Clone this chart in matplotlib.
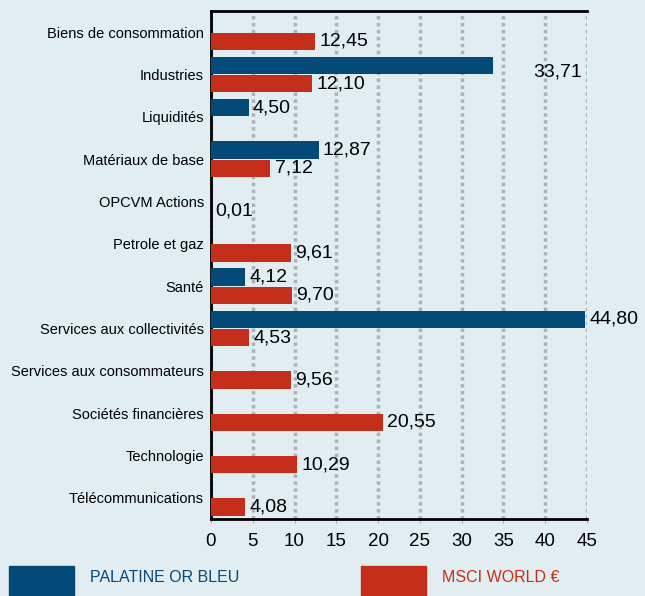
import matplotlib.pyplot as plt
import matplotlib.patches as mpatches
import numpy as np

plt.rcParams['font.family'] = ['Liberation Sans', 'DejaVu Sans']

categories = ['Biens de consommation', 'Industries', 'Liquidités', 'Matériaux de base',
              'OPCVM Actions', 'Petrole et gaz', 'Santé', 'Services aux collectivités',
              'Services aux consommateurs', 'Sociétés financières', 'Technologie',
              'Télécommunications']
palatine = [np.nan, 33.71, 4.50, 12.87, np.nan, np.nan, 4.12, 44.80,
            np.nan, np.nan, np.nan, np.nan]
msci = [12.45, 12.10, np.nan, 7.12, 0.01, 9.61, 9.70, 4.53,
        9.56, 20.55, 10.29, 4.08]
series_names = ['PALATINE OR BLEU', 'MSCI WORLD €']

blue = '#044a78'
red = '#c42e1a'
bg = '#e1edf0'

fig = plt.figure(figsize=(6.45, 5.96), dpi=100, facecolor=bg)
ax = fig.add_axes([211 / 645, 1 - 519 / 596, 376 / 645, 508 / 596], facecolor=bg)

y = np.arange(len(categories))
h = 0.41
off = 0.22
ax.barh(y - off, np.nan_to_num(palatine), height=h, color=blue, zorder=3)
ax.barh(y + off, np.nan_to_num(msci), height=h, color=red, zorder=3)

def fmt(v):
    return f"{v:.2f}".replace('.', ',')

for i, v in enumerate(palatine):
    if np.isnan(v):
        continue
    if categories[i] == 'Industries':
        # label sits near the right edge in the original
        ax.text(38.6, y[i] - 0.05, fmt(v), va='center', ha='left', fontsize=14, zorder=4)
    else:
        ax.text(v + 0.5, y[i] - off, fmt(v), va='center', ha='left', fontsize=14,
                zorder=4, clip_on=False)
for i, v in enumerate(msci):
    if np.isnan(v):
        continue
    ax.text(v + 0.5, y[i] + off, fmt(v), va='center', ha='left', fontsize=14,
            zorder=4, clip_on=False)

ax.set_xlim(0, 45)
ax.set_ylim(len(categories) - 0.5, -0.5)
ax.set_xticks(np.arange(0, 46, 5))
ax.set_yticks(y)
ax.set_yticklabels(categories, fontsize=10.5)
ax.tick_params(axis='y', length=0, pad=5)
ax.tick_params(axis='x', length=3, color='#a6b0b4', labelsize=13.5, pad=7)
ax.xaxis.grid(True, color='#a9b4b8', linestyle=(0, (1, 1)), linewidth=2.5, zorder=0)
ax.set_axisbelow(True)
for s in ['left', 'bottom', 'top']:
    ax.spines[s].set_linewidth(2)
    ax.spines[s].set_color('black')
ax.spines['right'].set_visible(False)

# legend
colors = [blue, red]
xs = [9, 361]
for name, c, x0 in zip(series_names, colors, xs):
    fig.patches.append(mpatches.Rectangle((x0 / 645, 0), 65 / 645, 30 / 596,
                                          transform=fig.transFigure, color=c))
    fig.text((x0 + 81) / 645, 1 - 577 / 596, name, color=c, fontsize=11.5,
             va='center', ha='left')

fig.savefig('out.png', dpi=100, facecolor=bg)
